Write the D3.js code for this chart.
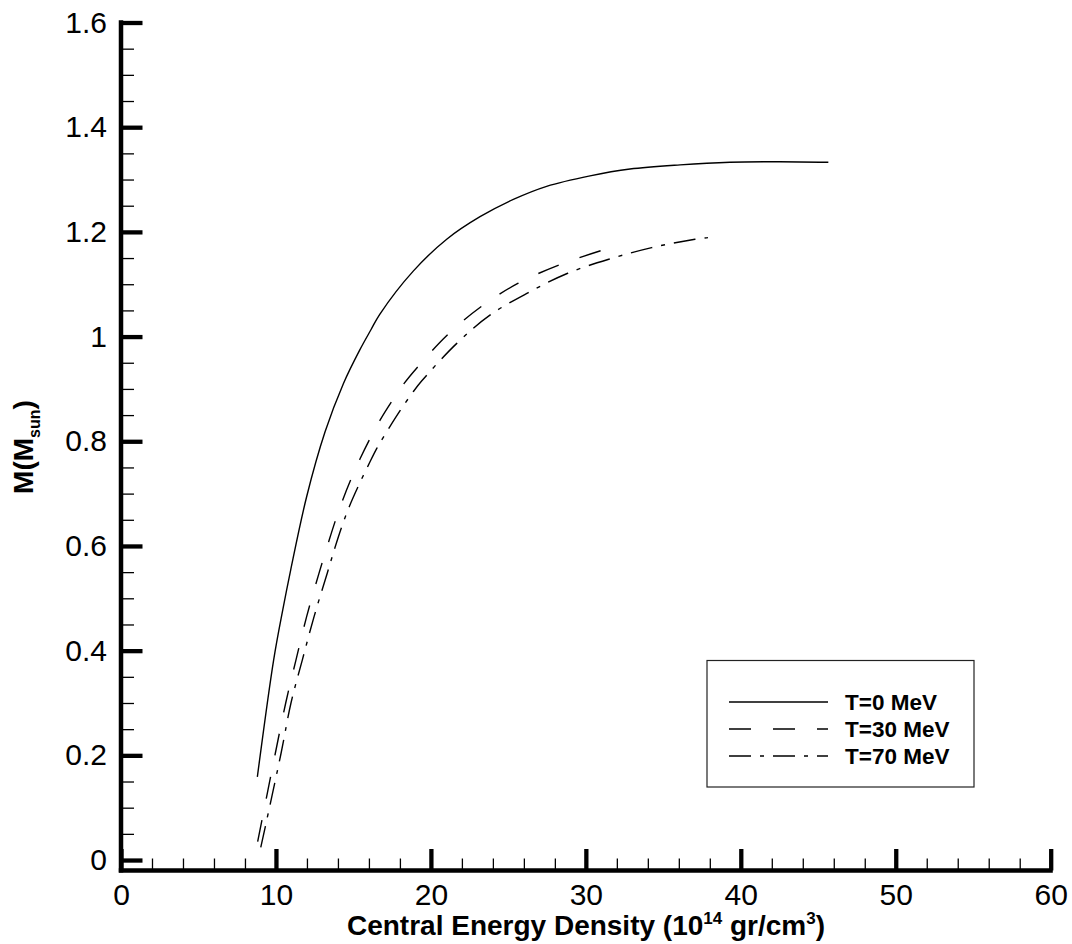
<!DOCTYPE html>
<html>
<head>
<meta charset="utf-8">
<script src="https://cdn.jsdelivr.net/npm/d3@7/dist/d3.min.js"></script>
<style>
  html, body { margin: 0; padding: 0; background: #fff; }
  svg { display: block; }
  text { font-family: Arial, "Liberation Sans", Helvetica, sans-serif; fill: #000; }
</style>
</head>
<body>
<svg id="chart" width="1072" height="944"></svg>
<script>
// ---- data ----
const seriesNames = ["T=0 MeV", "T=30 MeV", "T=70 MeV"];

const t0X = [8.80, 9.85, 10.44, 10.95, 11.98, 13.17, 14.35, 15.42, 16.13, 16.71, 18.86, 21.02, 23.17, 25.32, 27.47, 30.27, 32.85, 36.08, 39.3, 42.5, 45.65];
const t0Y = [0.159, 0.382, 0.478, 0.554, 0.694, 0.818, 0.910, 0.975, 1.013, 1.043, 1.125, 1.186, 1.229, 1.262, 1.287, 1.307, 1.320, 1.328, 1.333, 1.334, 1.333];

const t30X = [8.82, 9.96, 10.63, 11.29, 11.98, 12.78, 13.38, 13.81, 14.31, 14.82, 15.42, 16.07, 16.71, 17.47, 18.26, 19.12, 21.06, 23.23, 25.64, 28.29, 30.96];
const t30Y = [0.035, 0.204, 0.300, 0.382, 0.465, 0.548, 0.606, 0.646, 0.688, 0.726, 0.766, 0.805, 0.840, 0.876, 0.910, 0.941, 1.003, 1.057, 1.102, 1.137, 1.164];

const t70X = [9.02, 10.33, 10.97, 11.70, 12.46, 13.31, 13.81, 14.24, 14.73, 15.31, 15.96, 16.5, 17.25, 18.0, 18.82, 19.4, 21.67, 23.81, 26.29, 28.83, 31.51, 34.25, 37.04, 37.88];
const t70Y = [0.024, 0.204, 0.300, 0.382, 0.465, 0.548, 0.597, 0.636, 0.675, 0.714, 0.754, 0.786, 0.823, 0.858, 0.893, 0.915, 0.987, 1.041, 1.084, 1.121, 1.148, 1.170, 1.186, 1.189];

const xTicks = [0, 10, 20, 30, 40, 50, 60];
const xTickLabels = ["0", "10", "20", "30", "40", "50", "60"];
const xMinorTicks = [2, 4, 6, 8, 12, 14, 16, 18, 22, 24, 26, 28, 32, 34, 36, 38, 42, 44, 46, 48, 52, 54, 56, 58];
const yTicks = [0, 0.2, 0.4, 0.6, 0.8, 1.0, 1.2, 1.4, 1.6];
const yTickLabels = ["0", "0.2", "0.4", "0.6", "0.8", "1", "1.2", "1.4", "1.6"];
const yMinorTicks = [0.05, 0.1, 0.15, 0.25, 0.3, 0.35, 0.45, 0.5, 0.55, 0.65, 0.7, 0.75, 0.85, 0.9, 0.95, 1.05, 1.1, 1.15, 1.25, 1.3, 1.35, 1.45, 1.5, 1.55];

// ---- drawing ----
const svg = d3.select("#chart");
const x = d3.scaleLinear().domain([0, 60]).range([121, 1050.7]);
const y = d3.scaleLinear().domain([-0.02, 1.6]).range([870.5, 22.5]);

const series = [
  { name: seriesNames[0], xs: t0X, ys: t0Y, dash: null },
  { name: seriesNames[1], xs: t30X, ys: t30Y, dash: "22,22" },
  { name: seriesNames[2], xs: t70X, ys: t70Y, dash: "22,9,4,9" }
];

const line = d3.line()
  .x(d => x(d[0]))
  .y(d => y(d[1]))
  .curve(d3.curveCatmullRom.alpha(0.5));

svg.append("g").selectAll("path")
  .data(series)
  .join("path")
  .attr("d", s => line(s.xs.map((v, i) => [v, s.ys[i]])))
  .attr("fill", "none")
  .attr("stroke", "#000")
  .attr("stroke-width", 1.4)
  .attr("stroke-dasharray", s => s.dash);

// minor ticks
const yMinor = d3.axisLeft(y).tickValues(yMinorTicks).tickSize(-13).tickFormat("");
const xMinor = d3.axisBottom(x).tickValues(xMinorTicks).tickSize(-12).tickFormat("");
svg.append("g").attr("transform", "translate(121,0)").call(yMinor)
  .call(g => g.select(".domain").remove())
  .call(g => g.selectAll("line").attr("stroke-width", 1.3));
svg.append("g").attr("transform", "translate(0,870.5)").call(xMinor)
  .call(g => g.select(".domain").remove())
  .call(g => g.selectAll("line").attr("stroke-width", 1.3));

// major ticks
const yAxis = d3.axisLeft(y).tickValues(yTicks).tickSize(-21.5).tickPadding(14)
  .tickFormat((d, i) => yTickLabels[i]);
const xAxis = d3.axisBottom(x).tickValues(xTicks).tickSize(-21.5).tickPadding(13)
  .tickFormat((d, i) => xTickLabels[i]);

svg.append("g").attr("transform", "translate(121,0)").call(yAxis)
  .call(g => g.select(".domain").remove())
  .call(g => g.selectAll("line").attr("stroke-width", 4.3))
  .call(g => g.selectAll("text").attr("font-size", 30).attr("font-family", "Arial, 'Liberation Sans', sans-serif"));
svg.append("g").attr("transform", "translate(0,870.5)").call(xAxis)
  .call(g => g.select(".domain").remove())
  .call(g => g.selectAll("line").attr("stroke-width", 4.3))
  .call(g => g.selectAll("text").attr("font-size", 30).attr("font-family", "Arial, 'Liberation Sans', sans-serif"));

// axis lines
svg.append("line").attr("x1", 121).attr("x2", 121).attr("y1", 20.3).attr("y2", 872.5)
  .attr("stroke", "#000").attr("stroke-width", 4.5);
svg.append("line").attr("x1", 118.8).attr("x2", 1052.8).attr("y1", 870.5).attr("y2", 870.5)
  .attr("stroke", "#000").attr("stroke-width", 4.3);

// axis titles
const xt = svg.append("text").attr("x", 586).attr("y", 935)
  .attr("text-anchor", "middle").attr("font-size", 28).attr("font-weight", "bold");
xt.append("tspan").text("Central Energy Density (10");
xt.append("tspan").attr("font-size", 17).attr("dy", -11).text("14");
xt.append("tspan").attr("dy", 11).text(" gr/cm");
xt.append("tspan").attr("font-size", 17).attr("dy", -11).text("3");
xt.append("tspan").attr("dy", 11).text(")");

const yt = svg.append("text").attr("transform", "translate(33,447) rotate(-90)")
  .attr("text-anchor", "middle").attr("font-size", 28).attr("font-weight", "bold");
yt.append("tspan").text("M(M");
yt.append("tspan").attr("font-size", 16).attr("dy", 7).text("sun");
yt.append("tspan").attr("dy", -7).text(")");

// legend
const lg = svg.append("g");
lg.append("rect").attr("x", 707).attr("y", 660.5).attr("width", 267).attr("height", 126.5)
  .attr("fill", "#fff").attr("stroke", "#222").attr("stroke-width", 1.2);
const rows = lg.selectAll("g.row").data(series).join("g").attr("class", "row")
  .attr("transform", (d, i) => `translate(0,${702 + i * 27})`);
rows.append("line").attr("x1", 729).attr("x2", 828).attr("y1", 0).attr("y2", 0)
  .attr("stroke", "#000").attr("stroke-width", 1.4)
  .attr("stroke-dasharray", d => d.dash);
rows.append("text").attr("x", 845).attr("y", 7.8).attr("font-size", 22.5).attr("font-weight", "bold")
  .text(d => d.name);
</script>
</body>
</html>
